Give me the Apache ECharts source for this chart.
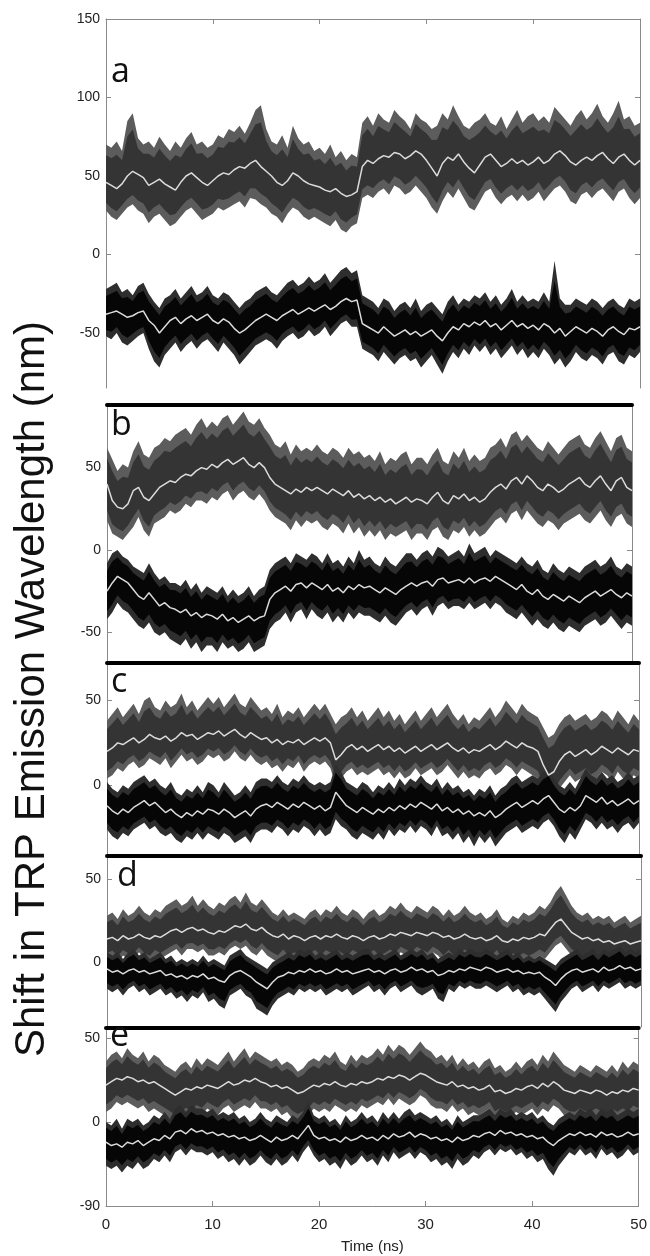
<!DOCTYPE html>
<html>
<head>
<meta charset="utf-8">
<title>Shift in TRP Emission Wavelength</title>
<script src="https://cdn.jsdelivr.net/npm/echarts@6/dist/echarts.min.js"></script>
<style>
  html, body { margin: 0; padding: 0; background: #fff; }
  #chart { width: 650px; height: 1256px; }
</style>
</head>
<body>
<div id="chart"></div>
<script>
"use strict";

// sample times (ns), 0.5 ns apart
var TIME = [0,0.5,1,1.5,2,2.5,3,3.5,4,4.5,
  5,5.5,6,6.5,7,7.5,8,8.5,9,9.5,
  10,10.5,11,11.5,12,12.5,13,13.5,14,14.5,
  15,15.5,16,16.5,17,17.5,18,18.5,19,19.5,
  20,20.5,21,21.5,22,22.5,23,23.5,24,24.5,
  25,25.5,26,26.5,27,27.5,28,28.5,29,29.5,
  30,30.5,31,31.5,32,32.5,33,33.5,34,34.5,
  35,35.5,36,36.5,37,37.5,38,38.5,39,39.5,
  40,40.5,41,41.5,42,42.5,43,43.5,44,44.5,
  45,45.5,46,46.5,47,47.5,48,48.5,49,49.5,
  50];

var X_TICKS = [0, 10, 20, 30, 40, 50];
var X_INNER_TICKS = [10, 20, 30, 40];

// ---- panel a ----
var A_UP_MEAN = [46,44,42,45,50,53,51,49,44,46, 48,45,43,41,46,50,52,49,46,44,
  47,50,52,51,54,56,55,58,60,56, 53,50,46,44,47,52,50,47,45,44,
  43,41,40,42,39,37,38,40,56,60, 58,61,63,62,65,64,61,63,66,64,
  60,55,50,58,62,60,64,59,55,52, 57,62,64,60,56,58,61,58,60,57,
  59,62,58,60,64,66,63,59,57,60, 62,60,63,65,61,58,62,64,60,57, 60];
var A_UP_HI = [70,68,72,66,85,90,74,70,72,68, 75,70,66,72,68,74,78,70,72,68,
  70,76,74,80,78,82,77,84,92,95, 80,72,70,76,68,82,74,70,72,66,
  68,64,70,62,66,60,64,62,84,88, 82,90,86,84,92,88,85,80,90,86,
  84,80,82,90,86,95,88,82,80,84, 86,90,84,82,88,80,86,92,84,88,
  90,85,88,84,94,90,86,82,88,92, 86,90,96,88,84,90,98,86,88,82, 84];
var A_UP_LO = [28,24,22,26,30,32,28,26,20,24, 26,22,18,20,24,28,30,26,22,24,
  26,30,28,30,32,34,30,36,35,32, 30,26,24,20,26,30,28,24,22,24,
  22,20,18,22,16,14,18,20,36,38, 36,40,42,38,44,42,38,40,44,40,
  36,30,26,34,40,36,42,36,30,28, 34,40,42,36,32,36,38,34,38,34,
  36,40,34,38,42,44,40,34,32,38, 40,36,40,42,38,34,40,42,36,32, 36];
var A_DN_MEAN = [-38,-37,-36,-38,-40,-39,-37,-36,-42,-45, -50,-46,-42,-40,-44,-41,-39,-42,-40,-38,
  -42,-44,-41,-43,-47,-50,-48,-45,-42,-40, -38,-40,-42,-39,-37,-35,-38,-36,-34,-36,
  -34,-32,-35,-33,-30,-28,-30,-29,-44,-46, -48,-50,-46,-49,-52,-50,-48,-51,-49,-52,
  -50,-48,-52,-55,-50,-46,-48,-44,-46,-43, -45,-42,-46,-44,-48,-45,-42,-46,-44,-47,
  -45,-48,-44,-46,-50,-47,-52,-49,-46,-48, -50,-47,-49,-52,-48,-46,-49,-51,-47,-48, -46];
var A_DN_HI = [-22,-20,-18,-24,-22,-26,-20,-18,-25,-30, -34,-28,-26,-22,-28,-24,-20,-26,-24,-20,
  -26,-28,-24,-26,-30,-34,-30,-28,-24,-22, -20,-24,-26,-22,-18,-16,-20,-18,-14,-18,
  -16,-12,-18,-14,-10,-8,-12,-10,-26,-28, -30,-34,-28,-30,-36,-32,-30,-34,-28,-36,
  -32,-30,-34,-38,-30,-26,-32,-28,-30,-26, -28,-24,-30,-26,-32,-28,-22,-30,-26,-30,
  -28,-30,-24,-30,-4,-28,-32,-32,-28,-30, -32,-28,-30,-34,-30,-28,-32,-34,-28,-30, -28];
var A_DN_LO = [-52,-54,-50,-56,-58,-55,-52,-50,-60,-68, -72,-64,-60,-56,-62,-58,-55,-60,-56,-54,
  -58,-62,-56,-60,-64,-70,-66,-62,-58,-56, -54,-56,-60,-55,-52,-50,-54,-52,-48,-52,
  -50,-46,-52,-48,-44,-42,-46,-46,-60,-62, -64,-68,-62,-66,-70,-66,-64,-68,-66,-72,
  -68,-64,-70,-76,-68,-62,-66,-60,-64,-58, -62,-58,-64,-60,-66,-62,-58,-64,-60,-66,
  -62,-66,-60,-64,-70,-66,-72,-68,-62,-66, -68,-64,-66,-70,-64,-62,-68,-70,-64,-66, -62];

// ---- panel b ----
var B_UP_MEAN = [40,30,26,25,28,36,38,32,30,34, 38,40,42,41,44,46,45,48,50,49,
  52,50,53,55,52,54,56,52,50,53, 50,44,40,38,36,34,37,35,38,36,
  38,36,34,37,35,33,36,32,34,31, 33,30,32,29,31,28,30,32,29,31,
  30,28,32,35,30,28,33,31,34,30, 32,29,31,35,38,40,37,42,44,40,
  45,42,38,36,40,38,35,37,40,42, 44,40,38,42,45,40,36,42,44,38, 36];
var B_UP_HI = [62,55,48,52,50,60,66,58,56,62, 64,68,66,70,72,74,70,76,80,74,
  78,75,80,82,76,80,84,78,76,80, 74,70,64,62,66,58,64,60,62,60,
  64,60,58,62,60,56,62,58,60,56, 58,54,60,52,56,54,58,60,52,56,
  56,52,58,62,54,52,60,56,62,54, 58,54,56,62,64,68,62,70,72,66,
  70,66,62,60,66,62,58,62,66,68, 70,64,62,68,72,66,60,68,70,62, 60];
var B_UP_LO = [18,10,8,6,10,14,20,12,8,16, 18,20,24,22,24,28,26,30,30,28,
  32,30,34,36,30,34,36,32,30,34, 30,24,20,18,16,12,18,14,18,16,
  18,14,12,16,14,10,16,10,14,8, 12,8,12,6,10,8,10,12,6,10,
  10,6,12,14,8,6,12,10,14,8, 12,8,10,14,18,20,16,22,24,18,
  24,20,16,14,18,16,12,16,18,20, 22,18,16,20,24,18,14,20,22,16, 14];
var B_DN_MEAN = [-25,-20,-16,-18,-20,-24,-28,-30,-26,-30, -34,-32,-35,-36,-38,-36,-40,-38,-41,-39,
  -40,-42,-39,-43,-41,-44,-42,-40,-43,-41, -40,-30,-26,-24,-22,-25,-21,-20,-23,-20,
  -22,-24,-21,-25,-23,-26,-22,-24,-21,-23, -22,-24,-26,-23,-25,-27,-24,-22,-20,-22,
  -20,-19,-22,-18,-17,-20,-19,-18,-20,-17, -20,-18,-17,-19,-16,-18,-20,-22,-24,-21,
  -25,-27,-24,-28,-30,-27,-29,-31,-28,-30, -32,-29,-27,-25,-28,-26,-24,-27,-29,-26, -28];
var B_DN_HI = [-8,-2,0,-4,-6,-10,-12,-14,-8,-14, -18,-16,-20,-20,-22,-18,-24,-20,-26,-22,
  -24,-26,-22,-28,-24,-28,-26,-22,-28,-24, -22,-12,-8,-6,-4,-8,-2,-4,-6,-2,
  -4,-8,-2,-8,-6,-10,-4,-8,0,-6, -4,-8,-10,-4,-8,-10,-6,-2,-2,-6,
  -2,0,-4,2,0,-4,-2,0,-4,4, -2,0,2,-4,0,-2,-4,-6,-8,-4,
  -8,-10,-6,-12,-14,-8,-12,-14,-10,-12, -14,-10,-8,-6,-10,-8,-4,-10,-12,-8, -10];
var B_DN_LO = [-42,-38,-32,-36,-38,-42,-46,-48,-44,-50, -52,-50,-54,-56,-58,-54,-60,-56,-62,-58,
  -58,-62,-56,-60,-58,-62,-60,-56,-62,-60, -58,-48,-44,-42,-38,-44,-38,-36,-42,-36,
  -40,-42,-38,-44,-40,-44,-38,-42,-38,-40, -40,-42,-44,-40,-44,-46,-42,-38,-36,-40,
  -36,-34,-40,-34,-32,-36,-34,-34,-36,-32, -36,-34,-32,-36,-32,-34,-38,-40,-42,-38,
  -42,-46,-42,-46,-48,-44,-48,-50,-46,-48, -50,-46,-44,-42,-46,-44,-40,-44,-48,-44, -46];

// ---- panel c ----
var C_UP_MEAN = [20,22,25,24,26,28,25,27,30,28, 27,29,26,28,31,29,30,27,29,31,
  30,32,29,31,33,30,28,31,29,27, 28,25,27,24,26,25,27,24,26,28,
  26,28,25,15,18,22,24,21,23,20, 22,24,21,23,20,22,19,21,23,20,
  22,24,21,23,25,22,20,22,19,21, 20,22,24,21,23,26,24,22,25,23,
  22,20,12,6,8,14,18,20,17,19, 21,18,20,23,21,19,22,20,18,21, 20];
var C_UP_HI = [38,42,46,40,44,48,42,50,52,46, 44,50,46,48,54,46,50,44,48,52,
  48,52,46,50,54,48,46,52,48,44, 46,42,48,40,44,42,46,40,44,48,
  44,48,42,36,40,42,46,40,44,38, 42,46,40,44,38,42,36,40,44,38,
  42,46,40,44,48,42,38,42,36,40, 38,42,46,40,44,50,46,42,48,44,
  42,40,34,28,30,36,40,42,38,40, 42,38,40,44,42,38,44,40,36,42, 38];
var C_UP_LO = [4,6,10,8,12,14,10,12,16,14, 12,16,10,14,18,14,16,12,14,18,
  16,18,14,16,20,16,14,18,14,12, 14,10,12,8,12,10,14,8,12,14,
  12,14,10,0,4,8,10,6,8,6, 8,10,6,8,4,8,4,6,10,6,
  8,10,6,8,12,8,4,8,4,6, 4,8,10,6,8,12,10,6,10,8,
  6,4,-4,-10,-8,-2,2,6,2,4, 6,2,4,8,6,2,8,4,2,6, 4];
var C_DN_MEAN = [-12,-15,-17,-14,-16,-13,-11,-9,-12,-10, -13,-16,-14,-17,-19,-16,-18,-15,-17,-14,
  -15,-17,-14,-16,-19,-17,-15,-18,-14,-12, -11,-13,-10,-12,-14,-11,-13,-10,-12,-14,
  -12,-15,-13,-4,-8,-12,-14,-16,-13,-15, -17,-14,-16,-13,-15,-12,-14,-11,-13,-10,
  -12,-14,-11,-15,-13,-16,-14,-17,-15,-18, -16,-18,-15,-19,-17,-14,-12,-10,-13,-11,
  -9,-11,-8,-6,-10,-14,-16,-13,-15,-12, -6,-8,-10,-7,-11,-9,-12,-10,-8,-11, -9];
var C_DN_HI = [2,-2,-4,0,-2,2,4,6,2,4, 0,-2,2,-4,-6,-2,-4,0,-4,2,
  0,-4,2,-2,-6,-4,0,-4,2,4, 4,2,6,2,0,4,2,6,2,0,
  2,0,2,12,8,2,0,-2,2,0, -4,0,-2,2,-2,4,0,4,2,6,
  2,0,4,-2,2,-2,0,-4,-2,-6, -2,-4,0,-6,-2,0,4,6,2,4,
  6,4,8,10,4,0,-2,2,-2,4, 10,6,4,8,4,6,2,4,8,4, 6];
var C_DN_LO = [-26,-30,-32,-28,-30,-26,-24,-22,-26,-24, -28,-30,-28,-32,-34,-30,-32,-28,-32,-28,
  -30,-32,-28,-30,-34,-32,-30,-34,-28,-26, -26,-28,-24,-26,-30,-26,-28,-24,-26,-30,
  -26,-30,-28,-20,-24,-26,-30,-32,-28,-30, -32,-28,-32,-26,-30,-26,-28,-24,-28,-24,
  -26,-30,-24,-30,-28,-32,-28,-34,-30,-36, -30,-34,-30,-36,-32,-28,-26,-24,-28,-26,
  -24,-26,-22,-20,-24,-30,-34,-28,-32,-26, -20,-22,-26,-22,-26,-24,-28,-24,-22,-26, -22];

// ---- panel d ----
var D_UP_MEAN = [14,15,13,16,14,15,17,15,14,16, 15,17,19,20,18,20,21,19,20,18,
  17,19,18,20,22,21,23,20,19,21, 18,16,15,17,14,16,15,13,15,16,
  14,16,15,17,15,14,16,15,13,15, 16,14,15,17,16,18,17,16,18,17,
  16,18,17,15,16,14,15,17,15,14, 15,13,14,16,13,12,14,13,15,14,
  15,17,16,20,24,26,22,18,16,14, 15,13,14,12,13,11,12,13,11,12, 13];
var D_UP_HI = [28,30,26,32,28,30,34,30,28,32, 30,34,36,38,34,36,40,34,38,34,
  32,36,34,38,40,36,42,36,34,38, 34,30,28,32,28,30,28,26,30,32,
  28,32,30,34,30,28,32,30,26,30, 32,28,30,34,32,36,32,30,34,32,
  30,34,32,28,32,28,30,34,30,28, 30,26,28,32,26,24,28,26,30,28,
  30,34,32,36,42,46,40,34,30,28, 30,26,28,26,28,24,26,28,24,26, 28];
var D_UP_LO = [2,4,0,4,2,2,6,2,0,4, 2,4,6,8,4,8,8,6,8,4,
  4,6,4,8,10,8,10,6,4,8, 4,2,0,4,0,2,2,-2,2,4,
  0,4,2,4,2,0,4,2,-2,2, 4,0,2,4,2,6,4,2,6,4,
  2,6,4,0,4,0,2,4,2,0, 2,-2,0,4,-2,-2,2,0,2,0,
  2,4,2,6,10,12,8,4,2,0, 2,-2,0,-2,0,-4,-2,0,-4,-2, 0];
var D_DN_MEAN = [-4,-6,-5,-7,-5,-4,-6,-5,-7,-6, -5,-8,-7,-9,-8,-10,-8,-9,-7,-10,
  -9,-11,-12,-8,-6,-5,-7,-9,-12,-14, -16,-12,-9,-8,-6,-7,-5,-6,-4,-6,
  -5,-7,-6,-4,-6,-5,-7,-6,-5,-4, -6,-5,-7,-5,-4,-6,-5,-3,-5,-4,
  -6,-5,-8,-7,-5,-6,-4,-5,-3,-4, -5,-3,-4,-6,-5,-4,-6,-5,-7,-6,
  -7,-6,-9,-11,-14,-10,-7,-5,-4,-6, -5,-4,-6,-3,-5,-4,-2,-4,-3,-5, -4];
var D_DN_HI = [6,4,6,2,6,8,4,6,2,4, 6,2,4,0,2,0,2,0,4,0,
  2,0,-2,4,6,8,4,2,0,-2, -4,0,2,4,6,4,8,6,8,4,
  6,4,6,8,4,6,4,6,8,8, 4,6,4,6,8,4,6,8,6,8,
  4,6,2,4,6,4,8,6,8,6, 6,8,6,4,6,8,4,6,2,4,
  2,4,2,0,-2,2,4,6,8,4, 6,8,4,8,6,8,10,6,8,6, 8];
var D_DN_LO = [-16,-18,-16,-20,-16,-14,-18,-16,-20,-18, -16,-20,-18,-22,-20,-24,-20,-22,-18,-24,
  -22,-26,-28,-20,-18,-16,-20,-22,-28,-30, -32,-26,-22,-20,-18,-20,-16,-18,-16,-18,
  -16,-20,-18,-16,-18,-16,-20,-18,-16,-14, -18,-16,-20,-16,-14,-18,-16,-14,-18,-20,
  -18,-16,-22,-24,-16,-18,-14,-16,-14,-16, -16,-14,-16,-18,-16,-14,-18,-16,-20,-18,
  -20,-18,-22,-26,-30,-24,-20,-16,-14,-18, -16,-14,-18,-14,-16,-14,-12,-16,-14,-16, -14];

// ---- panel e ----
var E_UP_MEAN = [22,24,26,25,27,26,24,25,23,24, 22,20,18,16,18,20,19,21,20,22,
  21,20,22,24,22,23,25,24,26,24, 23,21,22,20,21,19,17,18,20,22,
  21,23,22,24,22,21,23,22,24,23, 24,26,25,27,26,28,27,25,27,29,
  28,26,24,23,22,24,21,22,20,21, 19,20,22,18,19,17,18,20,19,21,
  22,20,23,21,24,22,19,18,17,19, 18,17,19,18,16,18,17,19,18,20, 19];
var E_UP_HI = [36,40,42,38,44,40,38,42,36,40, 38,34,32,30,34,36,32,38,34,38,
  36,34,38,42,36,40,44,38,42,40, 38,36,38,34,36,34,30,32,36,38,
  36,40,38,42,36,34,40,36,40,38, 40,44,40,46,42,46,44,40,44,48,
  44,42,38,40,36,40,34,38,34,36, 32,36,38,32,34,30,32,36,32,36,
  38,34,40,36,42,38,34,32,30,34, 32,30,34,32,30,34,30,36,32,36, 34];
var E_UP_LO = [6,8,12,10,12,10,8,10,6,8, 6,4,2,0,2,4,2,6,4,8,
  6,4,8,10,6,8,10,8,12,8, 8,6,8,4,6,2,0,2,4,8,
  6,8,6,10,8,6,8,6,10,8, 10,12,10,14,10,14,12,10,12,16,
  14,10,8,8,6,10,6,8,4,6, 4,6,8,2,4,2,4,6,4,6,
  8,4,8,6,10,8,4,2,2,4, 2,2,4,2,0,4,2,4,2,6, 4];
var E_DN_MEAN = [-12,-14,-13,-15,-12,-13,-11,-14,-12,-10, -11,-8,-10,-6,-5,-7,-4,-6,-5,-7,
  -6,-8,-7,-9,-8,-10,-9,-11,-10,-8, -10,-12,-9,-11,-10,-8,-10,-6,-2,-8,
  -10,-9,-11,-10,-12,-9,-11,-10,-8,-10, -9,-11,-8,-10,-7,-9,-8,-6,-9,-7,
  -8,-10,-9,-11,-10,-12,-9,-11,-10,-8, -9,-7,-6,-8,-5,-7,-6,-8,-7,-9,
  -8,-10,-9,-12,-14,-11,-9,-7,-8,-6, -8,-7,-9,-6,-8,-7,-9,-8,-6,-8, -7];
var E_DN_HI = [0,-2,2,-4,2,0,2,-2,0,4, 2,6,2,8,10,6,10,8,8,6,
  8,4,6,4,6,2,4,0,2,6, 2,0,4,2,0,4,2,6,12,4,
  2,4,0,2,-2,4,0,2,6,2, 4,0,6,2,6,2,6,8,4,6,
  4,2,4,0,2,-2,4,0,2,4, 4,6,8,4,8,6,8,4,6,4,
  6,2,4,0,-2,2,4,6,4,8, 6,8,4,8,6,8,4,6,8,6, 8];
var E_DN_LO = [-26,-28,-26,-30,-26,-28,-24,-28,-26,-22, -24,-20,-24,-18,-16,-20,-16,-18,-18,-20,
  -18,-22,-20,-24,-22,-26,-22,-26,-24,-20, -24,-26,-22,-26,-24,-20,-24,-18,-14,-20,
  -24,-22,-26,-24,-28,-22,-26,-24,-20,-24, -22,-26,-20,-24,-18,-22,-20,-18,-22,-18,
  -20,-24,-22,-26,-24,-28,-22,-26,-24,-20, -22,-18,-16,-20,-16,-18,-16,-20,-18,-22,
  -20,-24,-22,-28,-32,-26,-22,-18,-20,-16, -20,-18,-22,-16,-20,-18,-22,-20,-16,-20, -18];

var PANEL_LETTERS = ['a', 'b', 'c', 'd', 'e'];
var Y_TICKS = [[-50, 0, 50, 100, 150], [-50, 0, 50], [0, 50], [0, 50], [-50, 0, 50]];
var Y_TICK_TEXT = [['-50', '0', '50', '100', '150'], ['-50', '0', '50'], ['0', '50'], ['0', '50'], ['-90', '0', '50']];

var UPPER = [[A_UP_MEAN, A_UP_LO, A_UP_HI], [B_UP_MEAN, B_UP_LO, B_UP_HI], [C_UP_MEAN, C_UP_LO, C_UP_HI],
  [D_UP_MEAN, D_UP_LO, D_UP_HI], [E_UP_MEAN, E_UP_LO, E_UP_HI]];
var LOWER = [[A_DN_MEAN, A_DN_LO, A_DN_HI], [B_DN_MEAN, B_DN_LO, B_DN_HI], [C_DN_MEAN, C_DN_LO, C_DN_HI],
  [D_DN_MEAN, D_DN_LO, D_DN_HI], [E_DN_MEAN, E_DN_LO, E_DN_HI]];

// pixel layout of the five stacked panels
var LAYOUT = [
  { left: 106, right: 640, top: 19, bottom: 388, min: -85, max: 150, letterX: 111, letterY: 72 },
  { left: 107, right: 632, top: 405, bottom: 662, min: -68, max: 88, letterX: 111, letterY: 425 },
  { left: 107, right: 639, top: 663, bottom: 855, min: -41, max: 72, letterX: 111, letterY: 682 },
  { left: 107, right: 641, top: 856, bottom: 1027, min: -39, max: 64, letterX: 117, letterY: 876 },
  { left: 106, right: 641, top: 1028, bottom: 1206, min: -50, max: 56, letterX: 110, letterY: 1036 }
];

var AXIS_GREY = '#8a8a8a';
var LABEL_FONT = '"Liberation Sans", Arial, sans-serif';

var chart = echarts.init(document.getElementById('chart'), null, { renderer: 'canvas' });

var grids = [], xAxes = [], yAxes = [], series = [], graphics = [];

function bandSeries(p, lo, hi, fill) {
    return {
        type: 'custom',
        xAxisIndex: 2 * p,
        yAxisIndex: 2 * p,
        silent: true,
        clip: true,
        data: TIME.map(function (t, i) { return [t, lo[i], hi[i]]; }),
        encode: { x: 0, y: [1, 2] },
        renderItem: function (params, api) {
            if (params.dataIndex !== 0) return null;
            var pts = [];
            for (var i = 0; i < TIME.length; i++) pts.push(api.coord([TIME[i], hi[i]]));
            for (var j = TIME.length - 1; j >= 0; j--) pts.push(api.coord([TIME[j], lo[j]]));
            return { type: 'polygon', shape: { points: pts }, style: { fill: fill } };
        }
    };
}

// darker core of a trace, drawn inside its outer envelope
function core(mean, edge) {
    return mean.map(function (m, i) { return m + (edge[i] - m) * 0.72; });
}

function meanSeries(p, mean) {
    return {
        type: 'line',
        xAxisIndex: 2 * p,
        yAxisIndex: 2 * p,
        silent: true,
        showSymbol: false,
        data: TIME.map(function (t, i) { return [t, mean[i]]; }),
        lineStyle: { color: '#dcdcdc', width: 1.5 },
        z: 5
    };
}

LAYOUT.forEach(function (L, p) {
    var isFirst = p === 0, isLast = p === LAYOUT.length - 1;
    grids.push({ left: L.left, top: L.top, width: L.right - L.left, height: L.bottom - L.top });

    // bottom x axis (only the last panel shows it)
    xAxes.push({
        type: 'value', gridIndex: p, min: 0, max: 50, position: 'bottom',
        axisLine: { show: isLast, onZero: false, lineStyle: { color: AXIS_GREY, width: 1 } },
        axisTick: { show: isLast, inside: true, length: 5, customValues: X_INNER_TICKS, lineStyle: { color: AXIS_GREY } },
        axisLabel: { show: isLast, customValues: X_TICKS, margin: 11, fontSize: 15, color: '#222', fontFamily: LABEL_FONT },
        splitLine: { show: false },
        name: isLast ? 'Time (ns)' : '', nameLocation: 'middle', nameGap: 33,
        nameTextStyle: { fontSize: 15, color: '#222', fontFamily: LABEL_FONT }
    });
    // top x axis: grey frame for panel a, thick black divider for the rest
    xAxes.push({
        type: 'value', gridIndex: p, min: 0, max: 50, position: 'top',
        axisLine: { show: true, onZero: false, lineStyle: isFirst ? { color: AXIS_GREY, width: 1 } : { color: '#000', width: 4 } },
        axisTick: { show: isFirst, inside: true, length: 5, customValues: X_INNER_TICKS, lineStyle: { color: AXIS_GREY } },
        axisLabel: { show: false },
        splitLine: { show: false }
    });

    var ticks = Y_TICKS[p], texts = Y_TICK_TEXT[p];
    yAxes.push({
        type: 'value', gridIndex: p, min: L.min, max: L.max, position: 'left',
        axisLine: { show: true, onZero: false, lineStyle: { color: AXIS_GREY, width: 1 } },
        axisTick: { show: true, inside: true, length: 5, customValues: ticks, lineStyle: { color: AXIS_GREY } },
        axisLabel: {
            customValues: ticks, margin: 6, fontSize: 14, color: '#222', fontFamily: LABEL_FONT,
            formatter: function (v) { var k = ticks.indexOf(v); return k >= 0 ? texts[k] : String(v); }
        },
        splitLine: { show: false }
    });
    yAxes.push({
        type: 'value', gridIndex: p, min: L.min, max: L.max, position: 'right',
        axisLine: { show: true, onZero: false, lineStyle: { color: AXIS_GREY, width: 1 } },
        axisTick: { show: true, inside: true, length: 5, customValues: ticks, lineStyle: { color: AXIS_GREY } },
        axisLabel: { show: false },
        splitLine: { show: false }
    });

    var up = UPPER[p], dn = LOWER[p];
    series.push(bandSeries(p, up[1], up[2], '#5c5c5c'));
    series.push(bandSeries(p, core(up[0], up[1]), core(up[0], up[2]), '#343434'));
    series.push(bandSeries(p, dn[1], dn[2], '#2e2e2e'));
    series.push(bandSeries(p, core(dn[0], dn[1]), core(dn[0], dn[2]), '#060606'));
    series.push(meanSeries(p, up[0]));
    series.push(meanSeries(p, dn[0]));

    graphics.push({
        type: 'text', x: L.letterX, y: L.letterY, z: 10,
        style: { text: PANEL_LETTERS[p], font: '34px "Open Sans", sans-serif', fill: '#111', verticalAlign: 'middle' }
    });
});

graphics.push({
    type: 'text', x: 32, y: 689, rotation: Math.PI / 2, z: 10,
    style: {
        text: 'Shift in TRP Emission Wavelength (nm)', font: '42px "Liberation Sans", Arial, sans-serif',
        fill: '#111', align: 'center', verticalAlign: 'middle'
    }
});

chart.setOption({
    animation: false,
    backgroundColor: '#fff',
    grid: grids,
    xAxis: xAxes,
    yAxis: yAxes,
    series: series,
    graphic: graphics
});
</script>
</body>
</html>
